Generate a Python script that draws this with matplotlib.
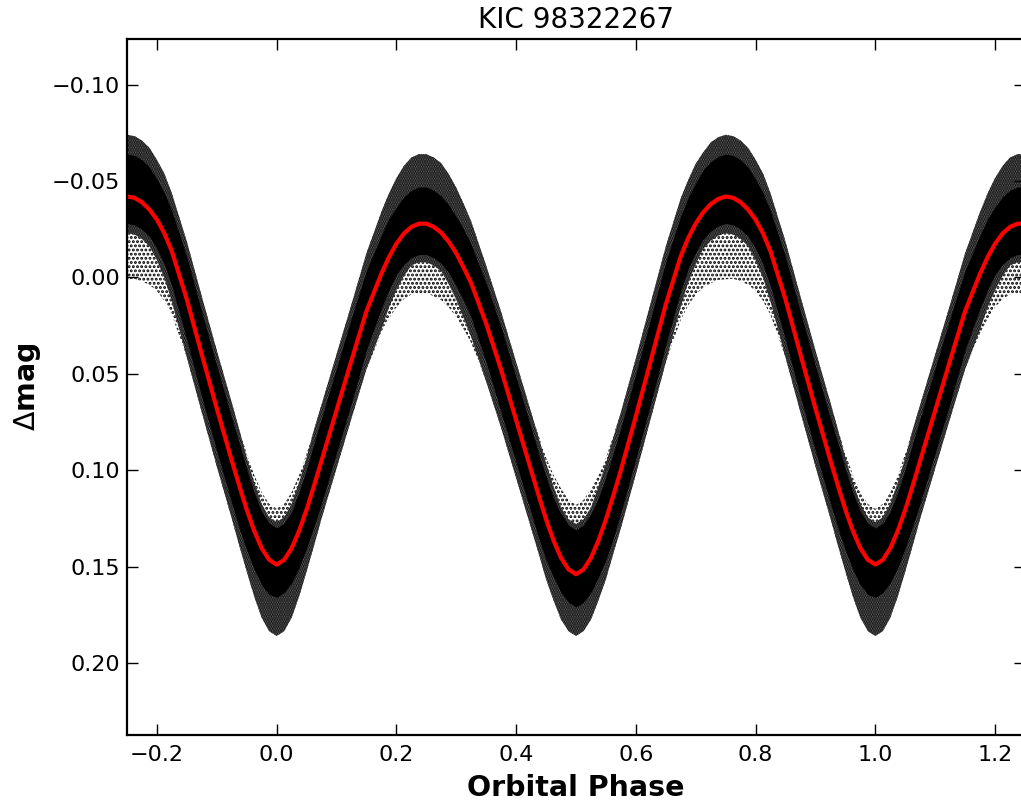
import numpy as np
import matplotlib
matplotlib.use('Agg')
import matplotlib.pyplot as plt

# phase-folded light curve, one cycle (phase 0 -> 1)
phase = [0.0, 0.0125, 0.025, 0.0375, 0.05, 0.0625, 0.075, 0.0875, 0.1, 0.125,
	0.15, 0.175, 0.1875, 0.2, 0.2125, 0.225, 0.2375, 0.25, 0.2625, 0.275,
	0.2875, 0.3, 0.3125, 0.325, 0.35, 0.375, 0.4, 0.425, 0.4375, 0.45,
	0.4625, 0.475, 0.4875, 0.5, 0.5125, 0.525, 0.5375, 0.55, 0.5625, 0.575,
	0.6, 0.625, 0.65, 0.675, 0.6875, 0.7, 0.7125, 0.725, 0.7375, 0.75,
	0.7625, 0.775, 0.7875, 0.8, 0.8125, 0.825, 0.85, 0.875, 0.9, 0.9125,
	0.925, 0.9375, 0.95, 0.9625, 0.975, 0.9875, 1.0]
# red model curve (delta mag)
model = [0.149, 0.1465, 0.1405, 0.1315, 0.1205, 0.108, 0.095, 0.082, 0.069, 0.043,
	0.0175, -0.002, -0.0105, -0.0175, -0.0228, -0.0262, -0.0279, -0.0279, -0.0262, -0.0232,
	-0.0185, -0.0125, -0.005, 0.003, 0.024, 0.048, 0.074, 0.100, 0.113, 0.1255,
	0.1365, 0.1455, 0.1515, 0.154, 0.1515, 0.1455, 0.1365, 0.1255, 0.113, 0.100,
	0.072, 0.043, 0.014, -0.011, -0.0205, -0.028, -0.0338, -0.038, -0.0407, -0.042,
	-0.0413, -0.039, -0.0352, -0.030, -0.0228, -0.0135, 0.0115, 0.040, 0.068, 0.0815,
	0.095, 0.108, 0.1205, 0.1315, 0.1405, 0.1465, 0.149]

# spread of the observed points around the model, brighter side (up) and fainter side (dn)
# outermost stray points
stray_up = [0.029, 0.029, 0.029, 0.029, 0.029, 0.029, 0.029, 0.029, 0.029, 0.029,
	0.030, 0.032, 0.033, 0.034, 0.035, 0.036, 0.036, 0.036, 0.036, 0.036,
	0.035, 0.034, 0.033, 0.032, 0.030, 0.030, 0.030, 0.030, 0.031, 0.032,
	0.034, 0.036, 0.036, 0.036, 0.036, 0.036, 0.034, 0.032, 0.031, 0.030,
	0.030, 0.030, 0.030, 0.030, 0.030, 0.031, 0.031, 0.032, 0.032, 0.032,
	0.032, 0.032, 0.032, 0.031, 0.031, 0.030, 0.030, 0.030, 0.030, 0.030,
	0.030, 0.029, 0.029, 0.029, 0.029, 0.029, 0.029]
stray_dn = [0.037, 0.037, 0.036, 0.034, 0.032, 0.031, 0.030, 0.030, 0.030, 0.030,
	0.030, 0.031, 0.032, 0.033, 0.034, 0.035, 0.036, 0.036, 0.036, 0.035,
	0.034, 0.033, 0.032, 0.031, 0.030, 0.030, 0.030, 0.030, 0.030, 0.031,
	0.031, 0.032, 0.032, 0.032, 0.032, 0.032, 0.031, 0.031, 0.030, 0.030,
	0.030, 0.030, 0.030, 0.033, 0.035, 0.037, 0.039, 0.041, 0.042, 0.043,
	0.042, 0.041, 0.039, 0.037, 0.035, 0.033, 0.030, 0.030, 0.030, 0.030,
	0.030, 0.031, 0.032, 0.034, 0.036, 0.037, 0.037]
# well populated halo
halo_up = [0.022, 0.022, 0.023, 0.025, 0.027, 0.029, 0.029, 0.029, 0.029, 0.029,
	0.030, 0.032, 0.033, 0.034, 0.035, 0.036, 0.036, 0.036, 0.036, 0.036,
	0.035, 0.034, 0.033, 0.032, 0.030, 0.030, 0.030, 0.030, 0.030, 0.029,
	0.028, 0.026, 0.026, 0.026, 0.026, 0.026, 0.028, 0.029, 0.030, 0.030,
	0.030, 0.030, 0.030, 0.030, 0.030, 0.031, 0.031, 0.032, 0.032, 0.032,
	0.032, 0.032, 0.032, 0.031, 0.031, 0.030, 0.030, 0.030, 0.030, 0.030,
	0.030, 0.029, 0.027, 0.025, 0.023, 0.022, 0.022]
halo_dn = [0.037, 0.037, 0.036, 0.034, 0.032, 0.031, 0.030, 0.030, 0.030, 0.030,
	0.030, 0.029, 0.026, 0.024, 0.022, 0.020, 0.020, 0.020, 0.020, 0.020,
	0.022, 0.024, 0.026, 0.028, 0.030, 0.030, 0.030, 0.030, 0.030, 0.031,
	0.031, 0.032, 0.032, 0.032, 0.032, 0.032, 0.031, 0.031, 0.030, 0.030,
	0.030, 0.030, 0.030, 0.026, 0.023, 0.021, 0.019, 0.019, 0.019, 0.019,
	0.019, 0.019, 0.019, 0.021, 0.023, 0.026, 0.030, 0.030, 0.030, 0.030,
	0.030, 0.031, 0.032, 0.034, 0.036, 0.037, 0.037]
# dense core
core_up = [0.019, 0.019, 0.019, 0.020, 0.021, 0.022, 0.022, 0.022, 0.022, 0.022,
	0.021, 0.020, 0.020, 0.019, 0.019, 0.019, 0.019, 0.019, 0.019, 0.019,
	0.019, 0.019, 0.020, 0.020, 0.021, 0.022, 0.022, 0.022, 0.022, 0.022,
	0.022, 0.023, 0.023, 0.023, 0.023, 0.023, 0.022, 0.022, 0.022, 0.022,
	0.022, 0.022, 0.022, 0.021, 0.021, 0.021, 0.022, 0.022, 0.022, 0.022,
	0.022, 0.022, 0.022, 0.021, 0.021, 0.021, 0.022, 0.022, 0.022, 0.022,
	0.022, 0.022, 0.021, 0.020, 0.019, 0.019, 0.019]
core_dn = [0.017, 0.017, 0.018, 0.019, 0.020, 0.021, 0.022, 0.022, 0.022, 0.022,
	0.020, 0.018, 0.017, 0.016, 0.016, 0.016, 0.016, 0.016, 0.016, 0.016,
	0.016, 0.017, 0.017, 0.018, 0.020, 0.022, 0.022, 0.022, 0.022, 0.021,
	0.019, 0.018, 0.017, 0.017, 0.017, 0.018, 0.019, 0.021, 0.022, 0.022,
	0.022, 0.022, 0.021, 0.018, 0.016, 0.015, 0.014, 0.014, 0.014, 0.014,
	0.014, 0.014, 0.014, 0.015, 0.016, 0.018, 0.021, 0.022, 0.022, 0.022,
	0.022, 0.022, 0.021, 0.020, 0.019, 0.018, 0.017]

title = 'KIC 98322267'
xlim = (-0.25, 1.25)
ylim = (0.2374, -0.1237)


def unfold(x, *cols):
	# repeat the cycle so it covers -0.25 .. 1.25 like the folded plot
	x = np.asarray(x)
	lo = x >= 0.75
	hi = x <= 0.25
	xs = np.concatenate([x[lo] - 1, x[1:], x[hi][1:] + 1])
	out = [xs]
	for c in cols:
		c = np.asarray(c)
		out.append(np.concatenate([c[lo], c[1:], c[hi][1:]]))
	return out


def plot_curve(fig_path='out.png'):
	plt.rcParams['font.family'] = 'DejaVu Sans'
	plt.rcParams['hatch.linewidth'] = 1.4
	fig = plt.figure(figsize=(10.21, 8.05), dpi=100)
	ax = fig.add_axes([127 / 1021, 70 / 805, 898 / 1021, 696 / 805])

	ph, m, su, sd, hu, hd, cu, cd = unfold(phase, model, stray_up, stray_dn,
		halo_up, halo_dn, core_up, core_dn)

	# stray points, populated halo, dense core, then the model
	ax.fill_between(ph, m - su, m + sd, facecolor='white', edgecolor='k',
		hatch='....', linewidth=0)
	ax.fill_between(ph, m - hu, m + hd, facecolor='0.45', edgecolor='k',
		hatch='.......', linewidth=0)
	ax.fill_between(ph, m - cu, m + cd, color='k', linewidth=0)
	ax.plot(ph, m, color='r', lw=3)

	ax.set_xlim(*xlim)
	ax.set_ylim(*ylim)
	ax.set_xticks([-0.2, 0.0, 0.2, 0.4, 0.6, 0.8, 1.0, 1.2])
	ax.set_yticks([-0.10, -0.05, 0.00, 0.05, 0.10, 0.15, 0.20])
	ax.tick_params(direction='in', top=True, right=True, length=8, width=1,
		labelsize=16)
	ax.tick_params(axis='x', pad=7)
	ax.tick_params(axis='y', pad=5)
	for s in ax.spines.values():
		s.set_linewidth(1.6)

	ax.set_title(title, fontsize=20, pad=8)
	ax.set_xlabel('Orbital Phase', fontsize=20.5, fontweight='bold', labelpad=7)
	ax.set_ylabel(r'$\Delta$mag', fontsize=20.5, fontweight='bold', labelpad=6)

	fig.savefig(fig_path, dpi=100)


if __name__ == '__main__':
	plot_curve()
